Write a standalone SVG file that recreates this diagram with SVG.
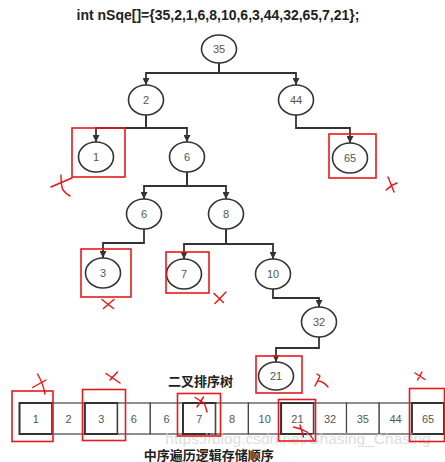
<svg xmlns="http://www.w3.org/2000/svg" width="445" height="462" viewBox="0 0 445 462">
<style>
.nd{fill:#fff;stroke:#333;stroke-width:1.6}
.lb{font-family:"Liberation Sans",Arial,sans-serif;font-size:11px;fill:#555;text-anchor:middle;dominant-baseline:central}
.cn{fill:none;stroke:#333;stroke-width:1.8}
.rb{fill:none;stroke:#e8191b;stroke-width:1.6}
.rx{fill:none;stroke:#f01010;stroke-width:1.4;stroke-linecap:round;stroke-linejoin:round}
.cell{fill:#fff;stroke:#444;stroke-width:1.2}
.cellh{fill:#fff;stroke:#333;stroke-width:2}
.hd{font-family:"Liberation Sans","Noto Sans CJK SC",sans-serif;font-weight:bold;fill:#222;text-anchor:middle}
</style>
<defs>
<marker id="arr" viewBox="0 0 10 10" refX="10" refY="5" markerWidth="9" markerHeight="7" orient="auto" markerUnits="userSpaceOnUse"><path d="M0,0 L10,5 L0,10 z" fill="#333"/></marker>
</defs>
<rect width="445" height="462" fill="#fff"/>
<text class="hd" x="218" y="20" font-size="14">int nSqe[]={35,2,1,6,8,10,6,3,44,32,65,7,21};</text>

<g id="connectors">
<path class="cn" marker-end="url(#arr)" d="M219,63 V73 H146 V85"/>
<path class="cn" marker-end="url(#arr)" d="M219,63 V73 H296 V85"/>
<path class="cn" marker-end="url(#arr)" d="M146,115 V128 H96 V142"/>
<path class="cn" marker-end="url(#arr)" d="M146,115 V128 H187 V142"/>
<path class="cn" marker-end="url(#arr)" d="M296,115 V128 H350 V143"/>
<path class="cn" marker-end="url(#arr)" d="M187,172 V186 H144 V199"/>
<path class="cn" marker-end="url(#arr)" d="M187,172 V186 H226 V199"/>
<path class="cn" marker-end="url(#arr)" d="M144,229 V243 H103 V258"/>
<path class="cn" marker-end="url(#arr)" d="M226,229 V244 H184 V259"/>
<path class="cn" marker-end="url(#arr)" d="M226,229 V244 H273 V259"/>
<path class="cn" marker-end="url(#arr)" d="M273,289 V298 H319 V307"/>
<path class="cn" marker-end="url(#arr)" d="M319,337 V348 H276 V362"/>
</g>

<g id="n35"><ellipse class="nd" cx="219" cy="49" rx="17.5" ry="14"/><text class="lb" x="219" y="49">35</text></g>
<g id="n2"><ellipse class="nd" cx="146" cy="100" rx="17.5" ry="15"/><text class="lb" x="146" y="100">2</text></g>
<g id="n44"><ellipse class="nd" cx="296" cy="100" rx="17.5" ry="15"/><text class="lb" x="296" y="100">44</text></g>
<g id="n1"><ellipse class="nd" cx="96" cy="157" rx="17.5" ry="15"/><text class="lb" x="96" y="157">1</text></g>
<g id="n6a"><ellipse class="nd" cx="187" cy="157" rx="17.5" ry="15"/><text class="lb" x="187" y="157">6</text></g>
<g id="n65"><ellipse class="nd" cx="350" cy="158" rx="17.5" ry="15"/><text class="lb" x="350" y="158">65</text></g>
<g id="n6b"><ellipse class="nd" cx="144" cy="214" rx="17.5" ry="15"/><text class="lb" x="144" y="214">6</text></g>
<g id="n8"><ellipse class="nd" cx="226" cy="214" rx="17.5" ry="15"/><text class="lb" x="226" y="214">8</text></g>
<g id="n3"><ellipse class="nd" cx="103" cy="273" rx="17.5" ry="15"/><text class="lb" x="103" y="273">3</text></g>
<g id="n7"><ellipse class="nd" cx="184" cy="274" rx="17.5" ry="15"/><text class="lb" x="184" y="274">7</text></g>
<g id="n10"><ellipse class="nd" cx="273" cy="274" rx="17.5" ry="15"/><text class="lb" x="273" y="274">10</text></g>
<g id="n32"><ellipse class="nd" cx="319" cy="322" rx="17.5" ry="15"/><text class="lb" x="319" y="322">32</text></g>
<g id="n21"><ellipse class="nd" cx="276" cy="376" rx="17.5" ry="14"/><text class="lb" x="276" y="376">21</text></g>

<text class="hd" x="200.5" y="386" font-size="13">二叉排序树</text>

<g id="array">
<rect class="cellh" x="19.5" y="403" width="32.7" height="31"/><text class="lb" x="35.8" y="418.5">1</text>
<rect class="cell" x="52.2" y="403" width="32.7" height="31"/><text class="lb" x="68.5" y="418.5">2</text>
<rect class="cellh" x="84.9" y="403" width="32.7" height="31"/><text class="lb" x="101.2" y="418.5">3</text>
<rect class="cell" x="117.6" y="403" width="32.7" height="31"/><text class="lb" x="133.9" y="418.5">6</text>
<rect class="cell" x="150.3" y="403" width="32.7" height="31"/><text class="lb" x="166.6" y="418.5">6</text>
<rect class="cellh" x="183" y="403" width="32.7" height="31"/><text class="lb" x="199.3" y="418.5">7</text>
<rect class="cell" x="215.7" y="403" width="32.7" height="31"/><text class="lb" x="232" y="418.5">8</text>
<rect class="cell" x="248.4" y="403" width="32.7" height="31"/><text class="lb" x="264.7" y="418.5">10</text>
<rect class="cellh" x="281.1" y="403" width="32.7" height="31"/><text class="lb" x="297.4" y="418.5">21</text>
<rect class="cell" x="313.8" y="403" width="32.7" height="31"/><text class="lb" x="330.1" y="418.5">32</text>
<rect class="cell" x="346.5" y="403" width="32.7" height="31"/><text class="lb" x="362.8" y="418.5">35</text>
<rect class="cell" x="379.2" y="403" width="32.7" height="31"/><text class="lb" x="395.5" y="418.5">44</text>
<rect class="cellh" x="411.9" y="403" width="32.1" height="31"/><text class="lb" x="428" y="418.5">65</text>
</g>

<text x="298" y="444" font-family="'Liberation Sans',Arial,sans-serif" font-size="15.5" fill="#d4d4d4" fill-opacity="0.8" text-anchor="middle">https://blog.csdn.net/Chasing_Chasing</text>
<text class="hd" x="208.7" y="460" font-size="13">中序遍历逻辑存储顺序</text>

<g id="marks">
<rect class="rb" x="72" y="128" width="53" height="49"/>
<rect class="rb" x="329" y="134" width="47" height="44"/>
<rect class="rb" x="81" y="249" width="50" height="48"/>
<rect class="rb" x="166" y="252" width="43" height="41"/>
<rect class="rb" x="256" y="356" width="46" height="37"/>
<rect class="rb" x="12" y="391" width="41" height="50.5"/>
<rect class="rb" x="82.5" y="389.5" width="43" height="51"/>
<rect class="rb" x="177.5" y="393.5" width="43" height="42.5"/>
<rect class="rb" x="278.5" y="399.5" width="37" height="41.5"/>
<rect class="rb" x="409.5" y="388.5" width="35" height="53"/>
<path class="rx" d="M61,175 Q61,186 63,190 Q66,194 70,196 M51,187 Q60,183 72,178"/>
<path class="rx" d="M388,177 Q391,184 394,192 M386,190 Q391,185 397,183"/>
<path class="rx" d="M102,299.5 L113.5,308.5 M103.5,308.5 L114,299.5"/>
<path class="rx" d="M214,293.5 L223.5,302.5 M215,303.5 L226,292"/>
<path class="rx" d="M317,374 L320,376 L315,386 M318,381 Q323,381 328,387"/>
<path class="rx" d="M32.5,387.5 L46,380 M37.5,374 Q43,383 45,394"/>
<path class="rx" d="M106,373.5 L120,383 M110,380 L117.5,372"/>
<path class="rx" d="M195,397.5 L204,403 Q206,407 207,412 M197,407 L203.5,397"/>
<path class="rx" d="M293.5,427 Q300,428 307,432 Q311,435 313.5,440 M300,425 L303.5,437"/>
<path class="rx" d="M415,373 L425,379.5 M417.5,380 L422,372"/>
</g>
</svg>
